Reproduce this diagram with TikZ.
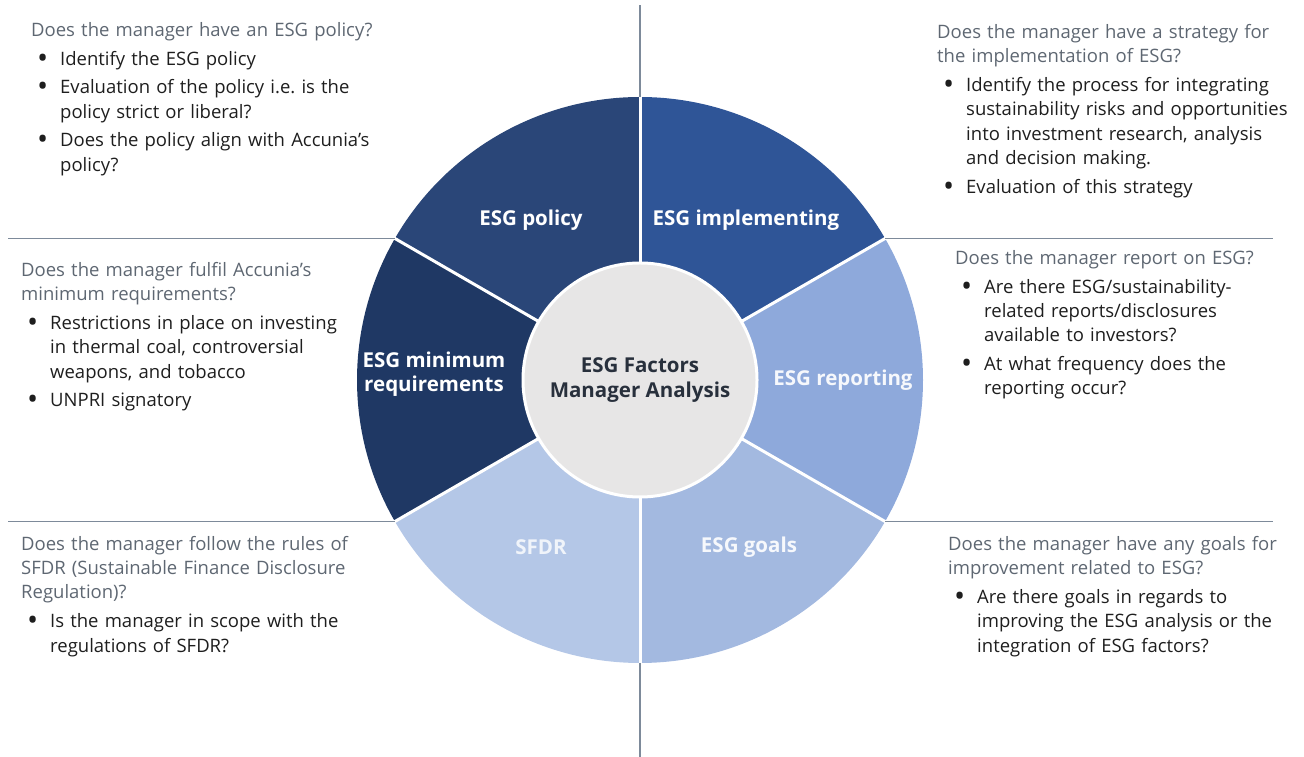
\documentclass[tikz,border=0pt]{standalone}
\usepackage{fontspec}
\setmainfont{Open Sans}
\usepackage{xcolor}
\usetikzlibrary{positioning}

\definecolor{policyblue}{HTML}{2A4678}
\definecolor{implblue}{HTML}{2F5597}
\definecolor{minblue}{HTML}{1F3864}
\definecolor{reportblue}{HTML}{8EA9DB}
\definecolor{goalsblue}{HTML}{A3B9E0}
\definecolor{sfdrblue}{HTML}{B4C7E7}
\definecolor{hubgray}{HTML}{E7E6E6}
\definecolor{hubtext}{HTML}{28303C}
\definecolor{headgray}{HTML}{5E6772}
\definecolor{textdark}{HTML}{1E1E1E}
\definecolor{rulegray}{HTML}{7D8A9A}

% question heading and bullet line of a text block
\newcommand\qhead[1]{{\color{headgray}#1\par}}
\newcommand\qitem[1]{\par\vspace{4.5pt}\hangindent=29pt\hangafter=1\noindent
  \hbox to 29pt{\hskip6pt\raisebox{-0.3ex}{\scalebox{1.6}{\textbullet}}\hfil}#1\par}

\begin{document}
\begin{tikzpicture}[x=1pt, y=1pt,
  qblock/.style={anchor=north west, inner sep=0pt, text width=366pt, align=left,
    font=\fontsize{18.5}{24.3}\selectfont, text=textdark},
  seglabel/.style={font=\fontsize{20.5}{24.5}\selectfont\bfseries, text=white, align=center},
  divider/.style={draw=rulegray, line width=1.2pt}]

  \useasboundingbox (0,0) rectangle (1304,757);

  % Centre of the wheel
  \coordinate (hub) at (640,377);

  % Fill in the six segments
  \fill[implblue]   (hub) -- ++(30:283)  arc[start angle=30,  end angle=90,  radius=283] -- cycle;
  \fill[policyblue] (hub) -- ++(90:283)  arc[start angle=90,  end angle=150, radius=283] -- cycle;
  \fill[minblue]    (hub) -- ++(150:283) arc[start angle=150, end angle=210, radius=283] -- cycle;
  \fill[sfdrblue]   (hub) -- ++(210:283) arc[start angle=210, end angle=270, radius=283] -- cycle;
  \fill[goalsblue]  (hub) -- ++(270:283) arc[start angle=270, end angle=330, radius=283] -- cycle;
  \fill[reportblue] (hub) -- ++(-30:283) arc[start angle=-30, end angle=30,  radius=283] -- cycle;

  % White gaps between the segments
  \foreach \a in {30,90,150,210,270,330}
    \draw[white, line width=3pt] (hub) -- ++(\a:285);

  % Points on the rim where the dividers start
  \path (hub) ++(90:283)  coordinate (rimN);
  \path (hub) ++(270:283) coordinate (rimS);
  \path (hub) ++(150:283) coordinate (rimNW);
  \path (hub) ++(30:283)  coordinate (rimNE);
  \path (hub) ++(210:283) coordinate (rimSW);
  \path (hub) ++(330:283) coordinate (rimSE);
  \coordinate (topend) at (640,752);
  \coordinate (botend) at (640,0);
  \coordinate (leftend) at (8,0);
  \coordinate (rightend) at (1273,0);

  % Dividers between the question blocks
  \draw[divider] (rimN) -- (topend);
  \draw[divider] (rimS) -- (botend);
  \draw[divider] (rimNW) -- (leftend |- rimNW);
  \draw[divider] (rimSW) -- (leftend |- rimSW);
  \draw[divider] (rimNE) -- (rightend |- rimNE);
  \draw[divider] (rimSE) -- (rightend |- rimSE);

  % Hub in the middle
  \node[circle, fill=hubgray, draw=white, line width=3pt, minimum size=234pt,
    font=\fontsize{20.5}{25}\selectfont\bfseries, text=hubtext, align=center] (centre) at (hub)
    {ESG Factors\\Manager Analysis};

  % Segment labels
  \node[seglabel] (policy) at (531,537) {ESG policy};
  \node[seglabel] (implementing) at (746,537) {ESG implementing};
  \node[seglabel] (minimum) at (434,383) {ESG minimum\\requirements};
  \node[seglabel, text=white!92!reportblue] (reporting) at (843,377) {ESG reporting};
  \node[seglabel, text=white!80!sfdrblue] (sfdr) at (541,210) {SFDR};
  \node[seglabel, text=white!90!goalsblue] (goals) at (749,210) {ESG goals};

  % Question blocks
  \node[qblock] (policyq) at (31,735) {%
    \qhead{Does the manager have an ESG policy?}
    \qitem{Identify the ESG policy}
    \qitem{Evaluation of the policy i.e.\ is the\newline policy strict or liberal?}
    \qitem{Does the policy align with Accunia’s\newline policy?}};

  \node[qblock] (implementingq) at (937,733) {%
    \qhead{Does the manager have a strategy for\newline the implementation of ESG?}
    \qitem{Identify the process for integrating\newline sustainability risks and opportunities\newline into investment research, analysis\newline and decision making.}
    \qitem{Evaluation of this strategy}};

  \node[qblock] (minimumq) at (21,495) {%
    \qhead{Does the manager fulfil Accunia’s\newline minimum requirements?}
    \qitem{Restrictions in place on investing\newline in thermal coal, controversial\newline weapons, and tobacco}
    \qitem{UNPRI signatory}};

  \node[qblock] (reportingq) at (955,507) {%
    \qhead{Does the manager report on ESG?}
    \qitem{Are there ESG/sustainability-\newline related reports/disclosures\newline available to investors?}
    \qitem{At what frequency does the\newline reporting occur?}};

  \node[qblock] (sfdrq) at (21,221) {%
    \qhead{Does the manager follow the rules of\newline SFDR (Sustainable Finance Disclosure\newline Regulation)?}
    \qitem{Is the manager in scope with the\newline regulations of SFDR?}};

  \node[qblock] (goalsq) at (948,221) {%
    \qhead{Does the manager have any goals for\newline improvement related to ESG?}
    \qitem{Are there goals in regards to\newline improving the ESG analysis or the\newline integration of ESG factors?}};
\end{tikzpicture}
\end{document}
